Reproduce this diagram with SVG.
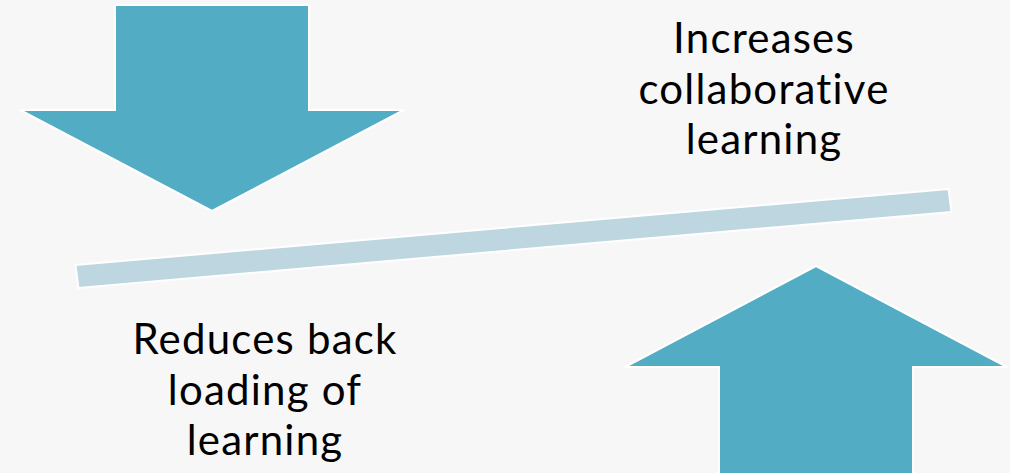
<svg xmlns="http://www.w3.org/2000/svg" width="1010" height="473" viewBox="0 0 1010 473">
<style>
.arrow{fill:#52adc4;stroke:#ffffff;stroke-width:2;stroke-linejoin:miter}
.bar{fill:#bdd6df;stroke:#ffffff;stroke-width:2}
.lbl{font-family:Lato,"Open Sans",sans-serif;font-size:42px;font-weight:400;letter-spacing:1.2px;fill:#000000;text-anchor:middle}
</style>
<rect width="1010" height="473" fill="#f7f7f7"/>
<g id="down-arrow">
<polygon class="arrow" points="115,5 309,5 309,110 404,110 212,211 20,110 115,110"/>
</g>
<g id="up-arrow">
<polygon class="arrow" points="816,266 1007,367 913,367 913,474 719,474 719,367 625,367"/>
</g>
<g id="beam">
<polygon class="bar" points="75.5,265 948.6,189 951.5,212 78.4,288"/>
</g>
<g id="label-top">
<text class="lbl" x="764" y="53">Increases</text>
<text class="lbl" x="764" y="104">collaborative</text>
<text class="lbl" x="764" y="154">learning</text>
</g>
<g id="label-bottom">
<text class="lbl" x="265" y="354">Reduces back</text>
<text class="lbl" x="265" y="405">loading of</text>
<text class="lbl" x="265" y="455">learning</text>
</g>
<g id="connectors"/>
</svg>
